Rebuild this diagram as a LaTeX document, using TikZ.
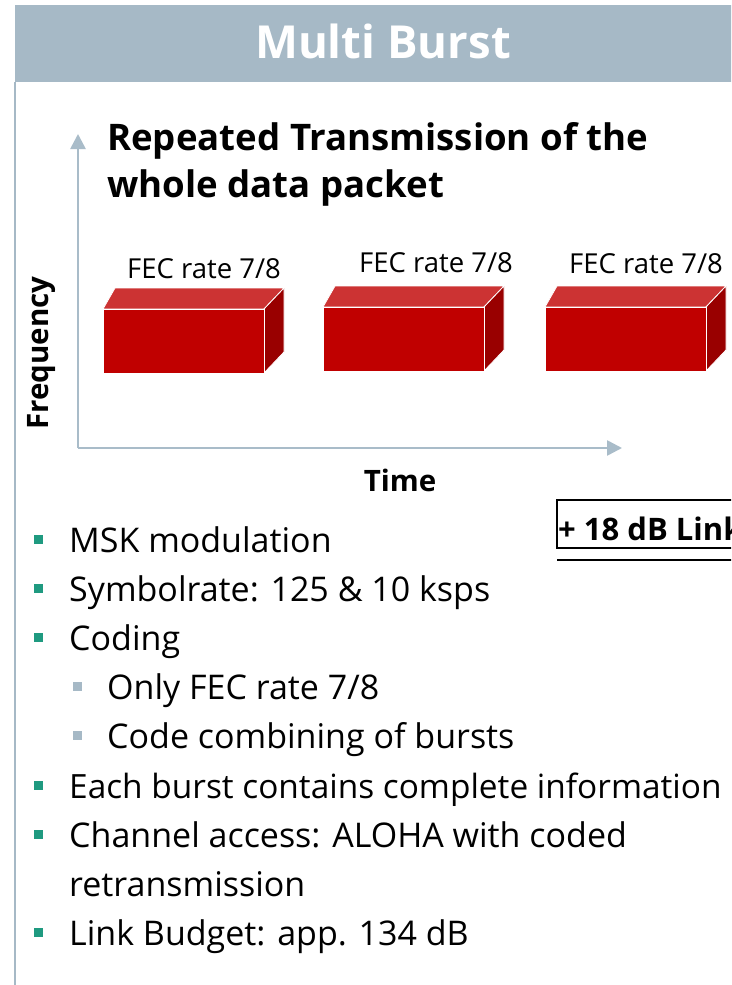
\documentclass[tikz,border=0pt]{standalone}
\usepackage{fontspec}
\setmainfont{Open Sans}
\usetikzlibrary{arrows.meta}
\definecolor{hdr}{HTML}{A6B9C6}
\definecolor{axisc}{HTML}{A9BCC9}
\definecolor{frontred}{HTML}{C00000}
\definecolor{topred}{HTML}{CC3333}
\definecolor{sidered}{HTML}{990000}
\definecolor{teal}{HTML}{1F9A80}
\tikzset{
  burst/.pic={
    \fill[topred,draw=white,line width=0.8pt] (0,0) -- (12,-21) -- (181,-21) -- (161,0) -- cycle;
    \fill[sidered,draw=white,line width=0.8pt] (161,0) -- (181,-21) -- (181,43) -- (161,64) -- cycle;
    \fill[frontred,draw=white,line width=0.8pt] (0,0) rectangle (161,64);
  },
  axisline/.style={axisc,line width=2.6pt,-{Triangle[width=15pt,length=15pt]}},
  fec/.style={anchor=base,inner sep=0pt,font=\fontsize{27.5}{32}\selectfont},
  lvlone/.style={anchor=base west,font=\fontsize{34}{40}\selectfont,inner sep=0pt},
  lvltwo/.style={anchor=base west,font=\fontsize{34}{40}\selectfont,inner sep=0pt},
  bone/.style={fill=teal,minimum size=9pt,inner sep=0pt},
  btwo/.style={fill=hdr,minimum size=9pt,inner sep=0pt},
  axlabel/.style={inner sep=0pt,font=\bfseries\fontsize{29.5}{34}\selectfont},
  headline/.style={anchor=base west,font=\bfseries\fontsize{36.6}{42}\selectfont,inner sep=0pt},
}
\begin{document}
\begin{tikzpicture}[x=1pt,y=-1pt]
\useasboundingbox (0,0) rectangle (731,985);
\clip (0,0) rectangle (731,985);
\fill[white] (0,0) rectangle (731,985);
% header
\fill[hdr] (15,5) rectangle (740,82);
\node[anchor=base,inner sep=0pt,text=white,font=\bfseries\fontsize{45.5}{50}\selectfont] (title) at (383,58) {Multi Burst};
\draw[hdr,line width=2pt] (15,82) -- (15,990);
% axes
\coordinate (origin) at (78,448);
\coordinate (ytip) at (78,134);
\coordinate (xtip) at (622,448);
\draw[axisline] (origin) -- (ytip);
\draw[axisline] (origin) -- (xtip);
\node[axlabel,rotate=90] (freq) at (42,353) {Frequency};
\node[axlabel,anchor=base] (time) at (400,491) {Time};
% heading
\node[headline] (h1) at (107,150) {Repeated Transmission of the};
\node[headline] (h2) at (107,197) {whole data packet};
% bursts
\pic at (103,309) {burst};
\pic at (323,307) {burst};
\pic at (545,307) {burst};
\node[fec] (f1) at (204,278) {FEC rate 7/8};
\node[fec] (f2) at (436,272) {FEC rate 7/8};
\node[fec] (f3) at (646,273) {FEC rate 7/8};
% link box
\draw[black,line width=1.3pt] (760,500) -- (557,500) -- (557,548) -- (760,548);
\draw[black,line width=2pt] (557,560) -- (760,560);
\node[anchor=base west,inner sep=0pt,font=\bfseries\fontsize{31}{36}\selectfont] (link) at (558,540) {+ 18 dB Link};
% bullets
\node[bone] (b1) at (38,539) {};
\node[lvlone] (t1) at (69,552) {MSK modulation};
\node[bone] (b2) at (38,588) {};
\node[lvlone] (t2) at (69,601) {Symbolrate: 125 \& 10 ksps};
\node[bone] (b3) at (38,637) {};
\node[lvlone] (t3) at (69,650) {Coding};
\node[btwo] (b4) at (77,686) {};
\node[lvltwo] (t4) at (107,699) {Only FEC rate 7/8};
\node[btwo] (b5) at (77,735) {};
\node[lvltwo] (t5) at (107,748) {Code combining of bursts};
\node[bone] (b6) at (38,785) {};
\node[lvlone,font=\fontsize{33.4}{40}\selectfont] (t6) at (69,798) {Each burst contains complete information};
\node[bone] (b7) at (38,834) {};
\node[lvlone] (t7) at (69,847) {Channel access: ALOHA with coded};
\node[lvlone] (t7b) at (69,896) {retransmission};
\node[bone] (b8) at (38,932) {};
\node[lvlone] (t8) at (69,945) {Link Budget: app. 134 dB};
\end{tikzpicture}
\end{document}
